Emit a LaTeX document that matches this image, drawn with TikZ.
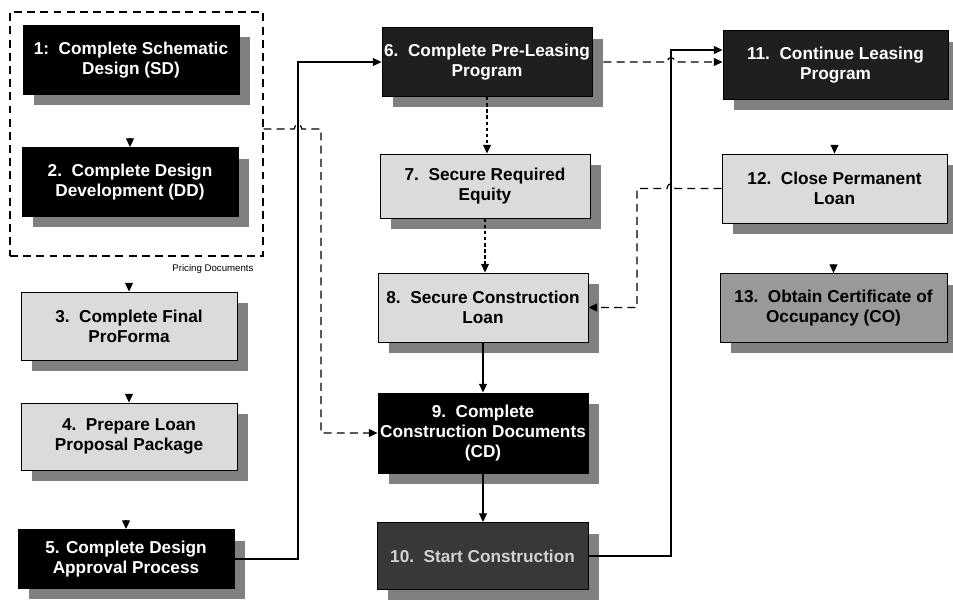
\documentclass[tikz,border=0pt]{standalone}
\usepackage{fontspec}
\setmainfont{Liberation Sans}
\usetikzlibrary{arrows.meta,shadows,calc}
\begin{document}
\begin{tikzpicture}[>={Triangle[width=4.5pt,length=5pt]},x=0.02cm,y=-0.02cm,line width=0.7pt,
    font=\fontsize{9.8}{11.5}\selectfont\bfseries,
    stepbox/.style={draw=black,line width=0.5pt,minimum width=4.32cm,minimum height=1.38cm,
        align=center,inner sep=1pt,
        drop shadow={shadow xshift=0.22cm,shadow yshift=-0.22cm,fill=black!50,opacity=1}},
    blackbox/.style={stepbox,fill=black,text=white},
    darkbox/.style={stepbox,fill=black!88,text=white},
    lightbox/.style={stepbox,fill=black!14,text=black},
    midbox/.style={stepbox,fill=black!40,text=black},
    dimbox/.style={stepbox,fill=black!78,text=black!18},
    longdash/.style={dash pattern=on 4.5pt off 3pt},
    finedash/.style={dash pattern=on 2pt off 1.5pt}]
    \useasboundingbox (0,0) rectangle (953,601);
    % design stage
    \node[draw,line width=0.6pt,longdash,minimum width=5.06cm,minimum height=4.88cm] (grp) at (136.5,134) {};
    \node[font=\fontsize{5.5}{6.5}\selectfont,anchor=east] (lbl) at (260,269) {Pricing Documents};
    \node[blackbox] (b1) at (131,60) {1:\ \ Complete Schematic\\Design (SD)};
    \node[blackbox] (b2) at (130,182) {2.\ \ Complete Design\\Development (DD)};
    \node[lightbox,minimum height=1.36cm] (b3) at (129,326) {3.\ \ Complete Final\\ProForma};
    \node[lightbox,minimum height=1.34cm] (b4) at (129,436.5) {4.\ \ Prepare Loan\\Proposal Package};
    \node[blackbox,minimum height=1.18cm] (b5) at (126,559) {5. Complete Design\\Approval Process};
    % financing stage
    \node[darkbox,minimum width=4.2cm] (b6) at (487,62) {6.\ \ Complete Pre-Leasing\\Program};
    \node[lightbox,minimum width=4.2cm,minimum height=1.28cm] (b7) at (485,186) {7.\ \ Secure Required\\Equity};
    \node[lightbox,minimum width=4.2cm] (b8) at (483,307.5) {8.\ \ Secure Construction\\Loan};
    \node[blackbox,minimum width=4.2cm,minimum height=1.6cm] (b9) at (483,433) {9.\ \ Complete\\Construction Documents\\(CD)};
    \node[dimbox,minimum width=4.22cm,minimum height=1.34cm] (b10) at (482.5,556) {10.\ \ Start Construction};
    % completion stage
    \node[darkbox,minimum width=4.5cm] (b11) at (835.5,65) {11.\ \ Continue Leasing\\Program};
    \node[lightbox,minimum width=4.5cm] (b12) at (834.5,188.5) {12.\ \ Close Permanent\\Loan};
    \node[midbox,minimum width=4.54cm] (b13) at (833.5,308) {13.\ \ Obtain Certificate of\\Occupancy (CO)};
    % connectors
    \foreach \n in {b2,b3,b4,b5,b12,b13} {\draw[->] ($(\n.north)+(0,-9)$) -- (\n.north);}
    \draw[->] (b5.east) -| (298,62) -- (b6.west);
    \draw[->,longdash] ($(grp.east)+(0,-5)$) -- (294,129) .. controls (295,123) and (301,123) .. (302,129)
        -- (321,129) |- (b9.west);
    \draw[->,finedash] (b6.south) -- (b6.south |- b7.north);
    \draw[->,finedash] (b7.south) -- (b7.south |- b8.north);
    \draw[->] (b8.south) -- (b8.south |- b9.north);
    \draw[->] (b9.south) -- (b9.south |- b10.north);
    \draw[->] (b10.east) -| (671,50) -- (b11.west |- 671,50);
    \draw[->,longdash] ($(b6.east)+(11,0)$) -- (667,62) .. controls (668,56) and (674,56) .. (675,62)
        -- (b11.west |- b6.east);
    \draw[->,longdash] (b12.west) -- (675,188.5) .. controls (674,182) and (668,182) .. (667,188.5)
        -- (637,188.5) |- (b8.east);
\end{tikzpicture}
\end{document}
